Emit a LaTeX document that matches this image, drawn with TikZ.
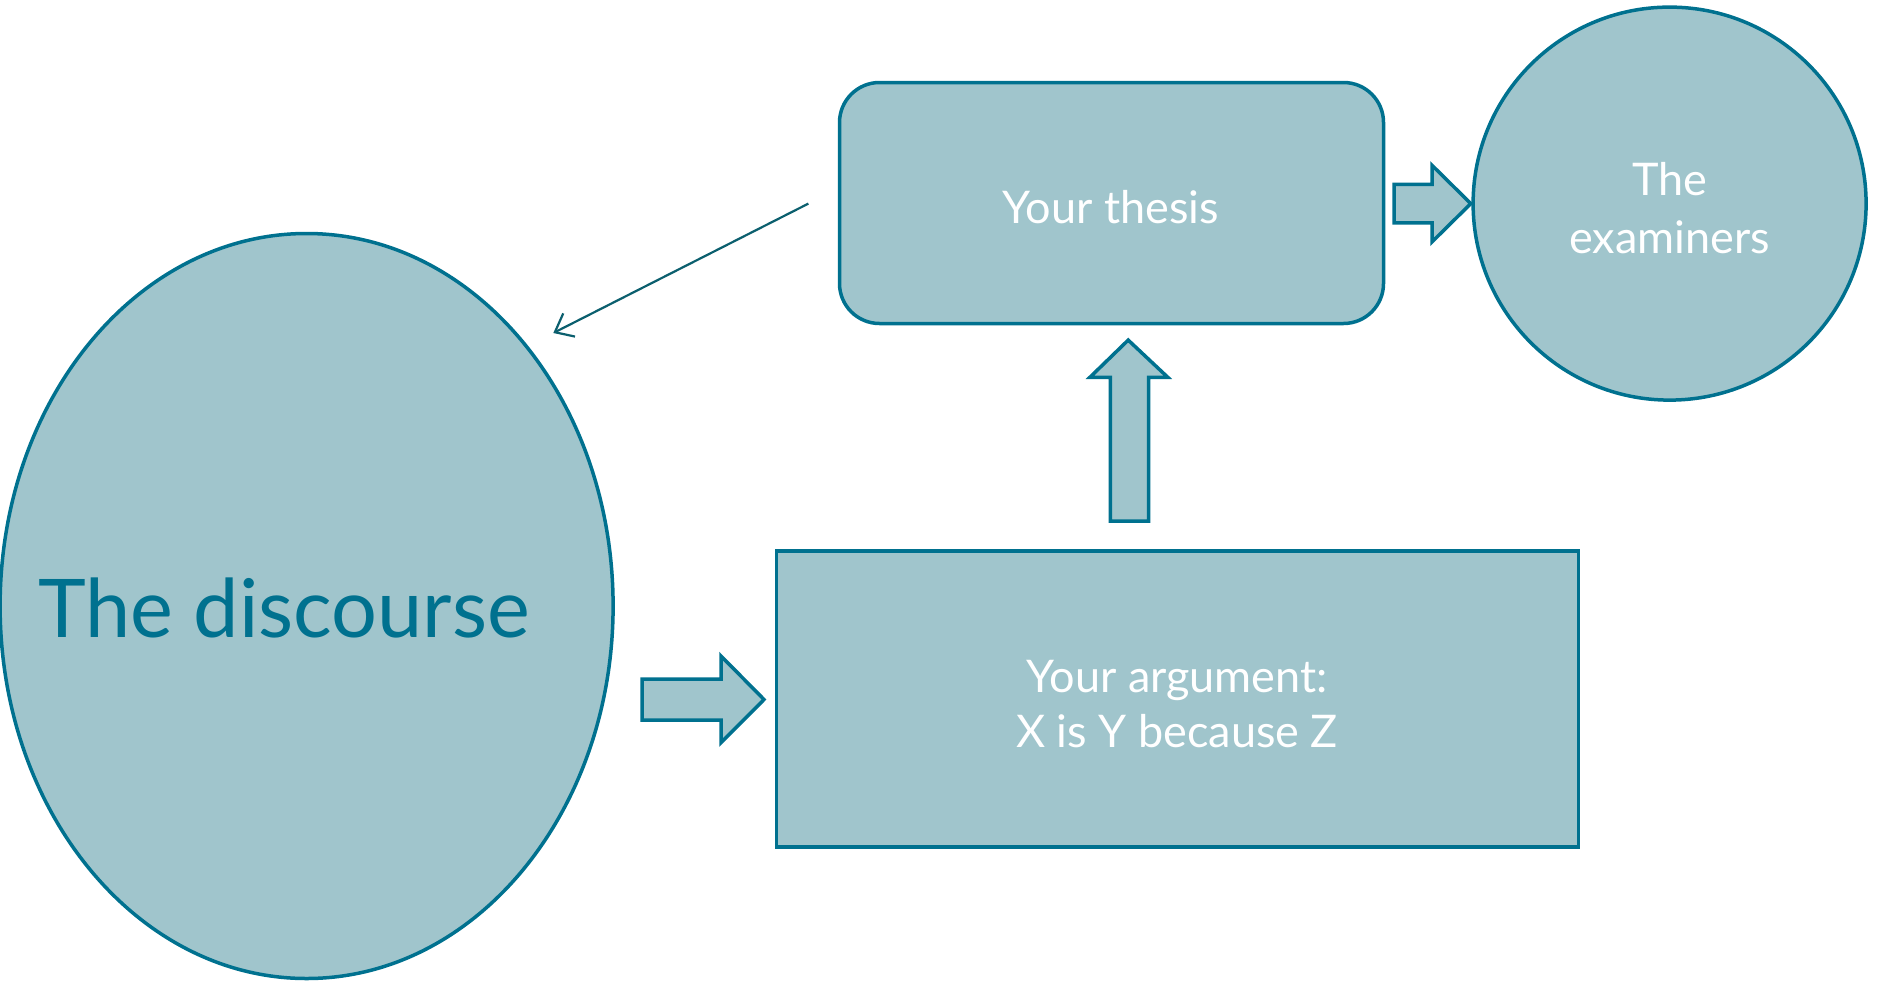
\documentclass[tikz,border=0pt]{standalone}
\usepackage{fontspec}
\setmainfont{Lato}
\usetikzlibrary{arrows.meta,shapes.geometric}
\definecolor{tealfill}{HTML}{A0C5CC}
\definecolor{tealline}{HTML}{00718F}
\definecolor{darkline}{HTML}{0B5F6E}
\begin{document}
\begin{tikzpicture}[x=1pt,y=-1pt,
  shapebox/.style={draw=tealline,fill=tealfill,line width=3.5pt},
  blockarrow/.style={draw=tealline,fill=tealfill,line width=3.5pt,line join=miter},
  whitetext/.style={text=white,font=\fontsize{45}{52}\selectfont,align=center}]
\useasboundingbox[fill=white] (0,0) rectangle (1878,980);
% The discourse
\node[shapebox,ellipse,minimum width=613pt,minimum height=745pt,inner sep=0pt] (disc) at (306.6,606) {};
\node[text=tealline,font=\fontsize{81}{92}\selectfont,anchor=base] (disctext) at (284,637) {The discourse};
% Your thesis
\node[shapebox,rounded corners=40pt,minimum width=544pt,minimum height=241pt,inner sep=0pt] (thesis) at (1111.5,203) {};
\node[whitetext,anchor=base] (thesistext) at (1111,223) {Your thesis};
% The examiners
\node[shapebox,circle,minimum size=393pt,inner sep=0pt] (exam) at (1669.6,203.6) {};
\node[whitetext,anchor=base] (examtext1) at (1669.6,195) {The};
\node[whitetext,anchor=base] (examtext2) at (1669.6,253) {examiners};
% Your argument
\node[shapebox,minimum width=802pt,minimum height=296pt,inner sep=0pt] (arg) at (1177.3,699) {};
\node[whitetext,anchor=base] (argtext1) at (1177,692) {Your argument:};
\node[whitetext,anchor=base] (argtext2) at (1177,747) {X is Y because Z};
% block arrows
\draw[blockarrow] (1394,184.4) -- (1432,184.4) -- (1432,165.3) -- (1470.8,203.6) -- (1432,241.9) -- (1432,222.8) -- (1394,222.8) -- cycle;
\draw[blockarrow] (1110.3,521) -- (1110.3,377.3) -- (1089.9,377.3) -- (1128.2,340.1) -- (1167.8,377.3) -- (1148.6,377.3) -- (1148.6,521) -- cycle;
\draw[blockarrow] (642,679) -- (721,679) -- (721,656) -- (764,699.5) -- (721,742.6) -- (721,720) -- (642,720) -- cycle;
% thin arrow
\coordinate (thinstart) at (808.4,203.6);
\coordinate (thinend) at (553.3,333);
\draw[darkline,line width=2.2pt,-{Straight Barb[length=16pt,width=26pt,line width=2.2pt]}] (thinstart) -- (thinend);
\end{tikzpicture}
\end{document}
